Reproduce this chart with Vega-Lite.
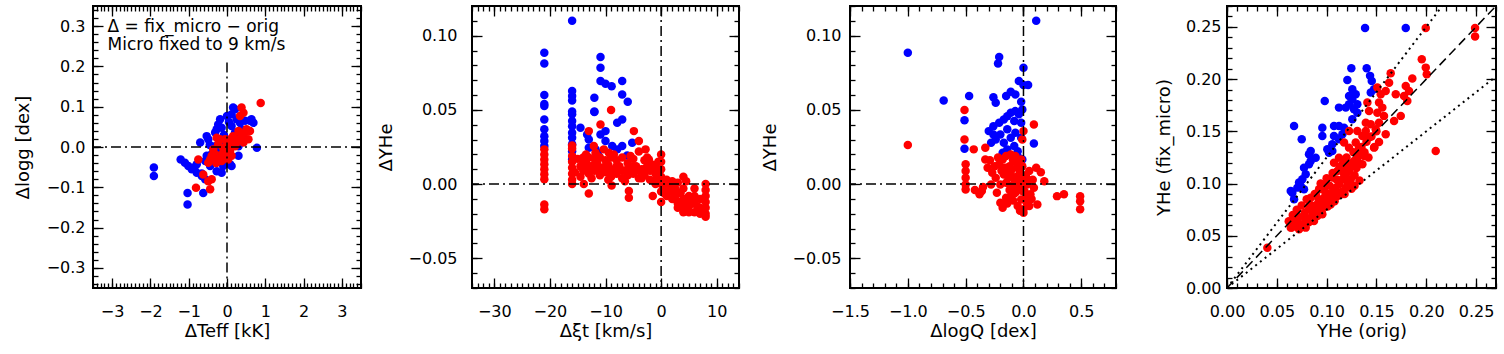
{
"$schema": "https://vega.github.io/schema/vega-lite/v6.json",
"background": "white",
"padding": {"left": 13, "top": 4, "right": 0, "bottom": 0},
"config": {
 "font": "DejaVu Sans",
 "view": {"stroke": "black", "strokeWidth": 2},
 "axis": {"domain": false, "grid": false, "tickColor": "black", "tickWidth": 1.3, "labelFont": "DejaVu Sans", "labelFontSize": 16, "labelColor": "black", "labelFlush": false, "labelOverlap": false, "labelBound": false, "titleFont": "DejaVu Sans", "titleFontSize": 18, "titleFontWeight": "normal", "titleColor": "black"}
},
"datasets": {
 "p1": [
  {"x":-1.91,"y":-0.051,"c":"b"},{"x":-1.91,"y":-0.072,"c":"b"},{"x":-1.03,"y":-0.114,"c":"b"},{"x":-1.03,"y":-0.143,"c":"b"},{"x":-0.62,"y":-0.114,"c":"b"},{"x":-1.21,"y":-0.031,"c":"b"},{"x":-1.10,"y":-0.039,"c":"b"},{"x":-1.01,"y":-0.047,"c":"b"},{"x":-0.92,"y":-0.055,"c":"b"},{"x":-0.79,"y":-0.064,"c":"b"},{"x":-0.66,"y":-0.066,"c":"b"},{"x":-0.79,"y":-0.043,"c":"b"},{"x":-0.70,"y":0.011,"c":"b"},{"x":-0.53,"y":0.027,"c":"b"},{"x":-0.49,"y":0.019,"c":"b"},{"x":-0.57,"y":-0.035,"c":"b"},{"x":-0.44,"y":-0.047,"c":"b"},{"x":-0.27,"y":-0.06,"c":"b"},{"x":-0.14,"y":-0.064,"c":"b"},{"x":-0.31,"y":0.036,"c":"b"},{"x":-0.23,"y":0.056,"c":"b"},{"x":-0.18,"y":0.069,"c":"b"},{"x":-0.27,"y":0.044,"c":"b"},{"x":-0.14,"y":0.048,"c":"b"},{"x":0,"y":0.077,"c":"b"},{"x":0.12,"y":0.081,"c":"b"},{"x":0.21,"y":0.094,"c":"b"},{"x":0.16,"y":0.098,"c":"b"},{"x":0.25,"y":0.069,"c":"b"},{"x":0.34,"y":0.06,"c":"b"},{"x":0.47,"y":0.065,"c":"b"},{"x":0.6,"y":0.065,"c":"b"},{"x":0.64,"y":0.069,"c":"b"},{"x":0.69,"y":0.06,"c":"b"},{"x":0.38,"y":0.044,"c":"b"},{"x":0.43,"y":0.019,"c":"b"},{"x":0.3,"y":0.002,"c":"b"},{"x":0.78,"y":-0.002,"c":"b"},{"x":0.3,"y":-0.022,"c":"b"},{"x":0.08,"y":-0.043,"c":"b"},{"x":0.12,"y":-0.047,"c":"b"},{"x":-0.23,"y":-0.01,"c":"b"},{"x":-0.53,"y":-0.022,"c":"b"},{"x":-0.4,"y":-0.018,"c":"b"},{"x":-0.66,"y":-0.072,"c":"b"},{"x":-0.57,"y":-0.08,"c":"b"},{"x":-0.05,"y":-0.035,"c":"b"},{"x":-0.1,"y":-0.047,"c":"b"},{"x":0.21,"y":0.036,"c":"b"},{"x":0.21,"y":0.019,"c":"b"},{"x":0.12,"y":0.052,"c":"b"},{"x":-0.14,"y":0.011,"c":"b"},{"x":-0.31,"y":0.002,"c":"b"},{"x":0.05,"y":0.062,"c":"b"},{"x":-0.08,"y":0.03,"c":"b"},{"x":-0.45,"y":0.005,"c":"b"},{"x":-0.85,"y":-0.05,"c":"b"},
  {"x":0.88,"y":0.109,"c":"r"},{"x":0.38,"y":0.098,"c":"r"},{"x":0.43,"y":0.085,"c":"r"},{"x":-0.81,"y":-0.101,"c":"r"},{"x":-0.44,"y":-0.105,"c":"r"},{"x":-0.49,"y":-0.085,"c":"r"},{"x":-0.4,"y":-0.08,"c":"r"},{"x":-0.75,"y":-0.031,"c":"r"},{"x":-0.62,"y":-0.068,"c":"r"},{"x":-0.40,"y":-0.022,"c":"r"},{"x":-0.31,"y":-0.018,"c":"r"},{"x":-0.18,"y":-0.022,"c":"r"},{"x":-0.23,"y":-0.031,"c":"r"},{"x":-0.10,"y":-0.014,"c":"r"},{"x":-0.01,"y":-0.018,"c":"r"},{"x":0.08,"y":-0.01,"c":"r"},{"x":0.12,"y":0.002,"c":"r"},{"x":0.03,"y":0.011,"c":"r"},{"x":0.21,"y":0.002,"c":"r"},{"x":0.25,"y":0.011,"c":"r"},{"x":0.3,"y":0.019,"c":"r"},{"x":0.38,"y":0.027,"c":"r"},{"x":0.47,"y":0.036,"c":"r"},{"x":0.51,"y":0.044,"c":"r"},{"x":0.56,"y":0.019,"c":"r"},{"x":0.43,"y":0.011,"c":"r"},{"x":-0.27,"y":0.023,"c":"r"},{"x":-0.18,"y":0.019,"c":"r"},{"x":-0.31,"y":-0.031,"c":"r"},{"x":-0.14,"y":-0.035,"c":"r"},{"x":0.03,"y":-0.031,"c":"r"},{"x":0.12,"y":-0.022,"c":"r"},{"x":-0.01,"y":-0.002,"c":"r"},{"x":-0.1,"y":-0.002,"c":"r"},{"x":0.3,"y":0.04,"c":"r"},{"x":0.16,"y":0.027,"c":"r"},{"x":-0.23,"y":0.007,"c":"r"},{"x":-0.36,"y":-0.006,"c":"r"},{"x":-0.44,"y":-0.031,"c":"r"},{"x":-0.49,"y":-0.039,"c":"r"},{"x":-0.05,"y":0.019,"c":"r"},{"x":0.08,"y":0.019,"c":"r"},{"x":0.34,"y":0.077,"c":"r"},{"x":0.6,"y":0.04,"c":"r"},{"x":-0.28,"y":-0.04,"c":"r"},{"x":0.0,"y":0.01,"c":"r"},{"x":0.18,"y":0.012,"c":"r"}
 ],
 "p2": [
  {"x":-16,"y":0.110,"c":"b"},{"x":-21,"y":0.0885,"c":"b"},{"x":-21,"y":0.0813,"c":"b"},{"x":-10.9,"y":0.0856,"c":"b"},{"x":-10.9,"y":0.0784,"c":"b"},{"x":-10.9,"y":0.0694,"c":"b"},{"x":-10,"y":0.0676,"c":"b"},{"x":-8.9,"y":0.066,"c":"b"},{"x":-7,"y":0.0694,"c":"b"},{"x":-7,"y":0.0604,"c":"b"},{"x":-6,"y":0.0555,"c":"b"},{"x":-21,"y":0.06,"c":"b"},{"x":-21,"y":0.054,"c":"b"},{"x":-16,"y":0.0627,"c":"b"},{"x":-16,"y":0.0593,"c":"b"},{"x":-16,"y":0.0564,"c":"b"},{"x":-12,"y":0.0582,"c":"b"},{"x":-12,"y":0.049,"c":"b"},{"x":-16,"y":0.049,"c":"b"},{"x":-21,"y":0.0526,"c":"b"},{"x":-21,"y":0.0436,"c":"b"},{"x":-21,"y":0.0369,"c":"b"},{"x":-21,"y":0.0323,"c":"b"},{"x":-21,"y":0.029,"c":"b"},{"x":-21,"y":0.0256,"c":"b"},{"x":-16,"y":0.047,"c":"b"},{"x":-16,"y":0.0425,"c":"b"},{"x":-16,"y":0.039,"c":"b"},{"x":-16,"y":0.0346,"c":"b"},{"x":-16,"y":0.0312,"c":"b"},{"x":-16,"y":0.0268,"c":"b"},{"x":-16,"y":0.0222,"c":"b"},{"x":-16,"y":0.0166,"c":"b"},{"x":-12,"y":0.0485,"c":"b"},{"x":-7.9,"y":0.0413,"c":"b"},{"x":-7,"y":0.0436,"c":"b"},{"x":-10,"y":0.0357,"c":"b"},{"x":-10.9,"y":0.0335,"c":"b"},{"x":-13.3,"y":0.0335,"c":"b"},{"x":-13,"y":0.0301,"c":"b"},{"x":-13,"y":0.0245,"c":"b"},{"x":-10,"y":0.029,"c":"b"},{"x":-8.8,"y":0.0256,"c":"b"},{"x":-7.9,"y":0.0234,"c":"b"},{"x":-7,"y":0.0256,"c":"b"},{"x":-11.2,"y":0.0189,"c":"b"},{"x":-5.2,"y":0.0278,"c":"b"},{"x":-6.1,"y":0.0193,"c":"b"},{"x":-11.8,"y":0.0234,"c":"b"},{"x":-11.5,"y":0.0211,"c":"b"},{"x":-14.5,"y":0.038,"c":"b"},
  {"x":-21,"y":0.0234,"c":"r"},{"x":-21,"y":0.02,"c":"r"},{"x":-21,"y":0.0166,"c":"r"},{"x":-21,"y":0.0133,"c":"r"},{"x":-21,"y":0.01,"c":"r"},{"x":-21,"y":0.0066,"c":"r"},{"x":-21,"y":0.0033,"c":"r"},{"x":-21,"y":-0.0137,"c":"r"},{"x":-21,"y":-0.017,"c":"r"},
  {"x":-16,"y":0.026,"c":"r"},{"x":-16,"y":0.024,"c":"r"},{"x":-16,"y":0.019,"c":"r"},{"x":-16,"y":0.015,"c":"r"},{"x":-16,"y":0.011,"c":"r"},{"x":-16,"y":0.007,"c":"r"},{"x":-16,"y":0.003,"c":"r"},{"x":-16,"y":0.0,"c":"r"},
  {"x":-9,"y":0.0499,"c":"r"},{"x":-10.9,"y":0.0402,"c":"r"},{"x":-13,"y":0.0357,"c":"r"},{"x":-4.9,"y":0.0357,"c":"r"},{"x":-4,"y":0.029,"c":"r"},{"x":-12.1,"y":0.0256,"c":"r"},{"x":-10.3,"y":0.0234,"c":"r"},{"x":-9.4,"y":0.0211,"c":"r"},{"x":-11.8,"y":0.0211,"c":"r"},{"x":-2.8,"y":0.0234,"c":"r"},{"x":-2.2,"y":0.0166,"c":"r"},
  {"x":-15,"y":0.017,"c":"r"},{"x":-14.5,"y":0.012,"c":"r"},{"x":-14,"y":0.018,"c":"r"},{"x":-14,"y":0.009,"c":"r"},{"x":-13.5,"y":0.015,"c":"r"},{"x":-13,"y":0.018,"c":"r"},{"x":-13,"y":0.007,"c":"r"},{"x":-12.5,"y":0.012,"c":"r"},{"x":-12,"y":0.017,"c":"r"},{"x":-12,"y":0.009,"c":"r"},{"x":-11.5,"y":0.014,"c":"r"},{"x":-11,"y":0.018,"c":"r"},{"x":-11,"y":0.006,"c":"r"},{"x":-10.5,"y":0.011,"c":"r"},{"x":-10,"y":0.016,"c":"r"},{"x":-10,"y":0.008,"c":"r"},{"x":-9.5,"y":0.013,"c":"r"},{"x":-9,"y":0.018,"c":"r"},{"x":-9,"y":0.005,"c":"r"},{"x":-8.5,"y":0.01,"c":"r"},{"x":-8,"y":0.016,"c":"r"},{"x":-8,"y":0.007,"c":"r"},{"x":-7.5,"y":0.012,"c":"r"},{"x":-7,"y":0.018,"c":"r"},{"x":-7,"y":0.004,"c":"r"},{"x":-6.5,"y":0.009,"c":"r"},{"x":-6,"y":0.014,"c":"r"},{"x":-6,"y":0.006,"c":"r"},{"x":-5.5,"y":0.011,"c":"r"},{"x":-5,"y":0.017,"c":"r"},{"x":-5,"y":0.007,"c":"r"},{"x":-4.5,"y":0.012,"c":"r"},{"x":-4,"y":0.022,"c":"r"},{"x":-4,"y":0.004,"c":"r"},{"x":-3.5,"y":0.01,"c":"r"},{"x":-3,"y":0.016,"c":"r"},{"x":-3,"y":0.006,"c":"r"},{"x":-2.5,"y":0.012,"c":"r"},{"x":-2,"y":0.009,"c":"r"},{"x":-2,"y":0.003,"c":"r"},{"x":-1.5,"y":0.013,"c":"r"},{"x":-1,"y":0.007,"c":"r"},{"x":-1,"y":0.0,"c":"r"},{"x":-0.5,"y":0.004,"c":"r"},{"x":0,"y":0.02,"c":"r"},{"x":0,"y":0.015,"c":"r"},{"x":0,"y":0.01,"c":"r"},{"x":0,"y":0.005,"c":"r"},{"x":0,"y":0.0,"c":"r"},{"x":0,"y":-0.005,"c":"r"},{"x":0,"y":-0.012,"c":"r"},{"x":-1.5,"y":-0.008,"c":"r"},
  {"x":-15.5,"y":0.008,"c":"r"},{"x":-14,"y":0.014,"c":"r"},{"x":-13,"y":0.012,"c":"r"},{"x":-12,"y":0.013,"c":"r"},{"x":-11,"y":0.01,"c":"r"},{"x":-10,"y":0.012,"c":"r"},{"x":-9,"y":0.009,"c":"r"},{"x":-8,"y":0.012,"c":"r"},{"x":-7,"y":0.009,"c":"r"},{"x":-6,"y":0.01,"c":"r"},{"x":-5,"y":0.012,"c":"r"},{"x":-4,"y":0.009,"c":"r"},{"x":-3,"y":0.01,"c":"r"},{"x":-2,"y":0.013,"c":"r"},{"x":-1,"y":0.011,"c":"r"},{"x":-0.5,"y":0.015,"c":"r"},{"x":-1,"y":0.003,"c":"r"},{"x":-3.5,"y":0.004,"c":"r"},{"x":-6.5,"y":0.002,"c":"r"},{"x":-9.5,"y":0.003,"c":"r"},{"x":-12.5,"y":0.004,"c":"r"},{"x":-14.5,"y":0.005,"c":"r"},{"x":-2.5,"y":0.018,"c":"r"},{"x":-5.5,"y":0.019,"c":"r"},{"x":-8.5,"y":0.02,"c":"r"},{"x":-11.5,"y":0.019,"c":"r"},{"x":-13.5,"y":0.02,"c":"r"},
  {"x":-13.9,"y":0.0,"c":"r"},{"x":-13,"y":-0.0063,"c":"r"},{"x":-8.9,"y":-0.0009,"c":"r"},{"x":-5.8,"y":-0.0047,"c":"r"},{"x":-5.8,"y":-0.0092,"c":"r"},
  {"x":1,"y":0.003,"c":"r"},{"x":1,"y":-0.003,"c":"r"},{"x":1,"y":-0.008,"c":"r"},{"x":1.5,"y":0.0,"c":"r"},{"x":2,"y":0.002,"c":"r"},{"x":2,"y":-0.005,"c":"r"},{"x":2,"y":-0.01,"c":"r"},{"x":2.5,"y":-0.003,"c":"r"},{"x":3,"y":0.001,"c":"r"},{"x":3,"y":-0.006,"c":"r"},{"x":3,"y":-0.013,"c":"r"},{"x":4,"y":0.005,"c":"r"},{"x":4,"y":-0.003,"c":"r"},{"x":4,"y":-0.01,"c":"r"},{"x":4,"y":-0.015,"c":"r"},{"x":4,"y":-0.019,"c":"r"},{"x":5,"y":-0.008,"c":"r"},{"x":5,"y":-0.015,"c":"r"},{"x":6,"y":-0.008,"c":"r"},{"x":6,"y":-0.013,"c":"r"},{"x":6,"y":-0.019,"c":"r"},{"x":7,"y":-0.01,"c":"r"},{"x":7,"y":-0.016,"c":"r"},{"x":8,"y":0.0,"c":"r"},{"x":8,"y":-0.004,"c":"r"},{"x":8,"y":-0.008,"c":"r"},{"x":8,"y":-0.012,"c":"r"},{"x":8,"y":-0.016,"c":"r"},{"x":8,"y":-0.02,"c":"r"},{"x":8,"y":-0.022,"c":"r"},
  {"x":0.5,"y":0.002,"c":"r"},{"x":0.5,"y":-0.006,"c":"r"},{"x":1.5,"y":-0.005,"c":"r"},{"x":2.5,"y":-0.009,"c":"r"},{"x":3.5,"y":-0.006,"c":"r"},{"x":3.5,"y":-0.012,"c":"r"},{"x":4.5,"y":-0.012,"c":"r"},{"x":5.5,"y":-0.012,"c":"r"},{"x":6.5,"y":-0.015,"c":"r"},{"x":7.5,"y":-0.018,"c":"r"},{"x":5,"y":-0.019,"c":"r"},{"x":7,"y":-0.02,"c":"r"},{"x":3,"y":-0.016,"c":"r"},{"x":6,"y":-0.003,"c":"r"},{"x":4.5,"y":0.002,"c":"r"}
 ],
 "p3": [
  {"x":0.11,"y":0.110,"c":"b"},{"x":-1.0,"y":0.0885,"c":"b"},{"x":-0.21,"y":0.0856,"c":"b"},{"x":-0.22,"y":0.0813,"c":"b"},{"x":0,"y":0.0784,"c":"b"},{"x":-0.04,"y":0.0694,"c":"b"},{"x":0.04,"y":0.0667,"c":"b"},{"x":0,"y":0.0667,"c":"b"},{"x":-0.69,"y":0.0564,"c":"b"},{"x":-0.47,"y":0.0593,"c":"b"},{"x":-0.26,"y":0.0586,"c":"b"},{"x":-0.24,"y":0.0548,"c":"b"},{"x":-0.15,"y":0.0593,"c":"b"},{"x":-0.11,"y":0.0622,"c":"b"},{"x":-0.07,"y":0.0604,"c":"b"},{"x":-0.02,"y":0.0555,"c":"b"},
  {"x":-0.51,"y":0.0431,"c":"b"},{"x":-0.51,"y":0.0238,"c":"b"},{"x":-0.30,"y":0.0357,"c":"b"},{"x":-0.26,"y":0.039,"c":"b"},{"x":-0.21,"y":0.0413,"c":"b"},{"x":-0.17,"y":0.0436,"c":"b"},{"x":-0.14,"y":0.0458,"c":"b"},{"x":-0.11,"y":0.048,"c":"b"},{"x":-0.07,"y":0.0492,"c":"b"},{"x":-0.04,"y":0.047,"c":"b"},{"x":-0.08,"y":0.0425,"c":"b"},{"x":-0.14,"y":0.0369,"c":"b"},{"x":-0.20,"y":0.0335,"c":"b"},{"x":-0.24,"y":0.0301,"c":"b"},{"x":-0.17,"y":0.0278,"c":"b"},{"x":-0.11,"y":0.0312,"c":"b"},{"x":-0.07,"y":0.0346,"c":"b"},{"x":-0.02,"y":0.0413,"c":"b"},{"x":-0.02,"y":0.0312,"c":"b"},{"x":-0.08,"y":0.0256,"c":"b"},{"x":-0.14,"y":0.0234,"c":"b"},{"x":-0.18,"y":0.0211,"c":"b"},{"x":-0.05,"y":0.0222,"c":"b"},{"x":-0.04,"y":0.0177,"c":"b"},{"x":-0.01,"y":0.0166,"c":"b"},{"x":-0.26,"y":0.0335,"c":"b"},{"x":-0.28,"y":0.0278,"c":"b"},{"x":0.09,"y":0.0274,"c":"b"},{"x":-0.01,"y":0.0503,"c":"b"},
  {"x":-1.0,"y":0.0263,"c":"r"},{"x":-0.51,"y":0.0499,"c":"r"},{"x":-0.51,"y":0.0301,"c":"r"},{"x":-0.5,"y":0.0133,"c":"r"},{"x":-0.5,"y":0.0088,"c":"r"},{"x":-0.5,"y":0.0043,"c":"r"},{"x":-0.5,"y":-0.0002,"c":"r"},{"x":-0.5,"y":-0.0036,"c":"r"},{"x":-0.43,"y":0.0234,"c":"r"},{"x":-0.33,"y":0.0245,"c":"r"},{"x":0.09,"y":0.0402,"c":"r"},{"x":0,"y":0.0357,"c":"r"},{"x":-0.01,"y":0.0301,"c":"r"},{"x":-0.33,"y":0.0166,"c":"r"},{"x":-0.31,"y":0.011,"c":"r"},{"x":-0.27,"y":0.0076,"c":"r"},{"x":-0.24,"y":0.0042,"c":"r"},
  {"x":-0.21,"y":0.0133,"c":"r"},{"x":-0.18,"y":0.0166,"c":"r"},{"x":-0.15,"y":0.0189,"c":"r"},{"x":-0.11,"y":0.02,"c":"r"},{"x":-0.07,"y":0.0189,"c":"r"},{"x":-0.02,"y":0.0166,"c":"r"},{"x":-0.01,"y":0.0121,"c":"r"},{"x":-0.05,"y":0.011,"c":"r"},{"x":-0.10,"y":0.0099,"c":"r"},{"x":-0.14,"y":0.0088,"c":"r"},{"x":-0.17,"y":0.0065,"c":"r"},{"x":-0.13,"y":0.0042,"c":"r"},{"x":-0.08,"y":0.0032,"c":"r"},{"x":-0.04,"y":0.0009,"c":"r"},{"x":0.0,"y":0.002,"c":"r"},{"x":0.03,"y":-0.0002,"c":"r"},{"x":0.05,"y":0.0088,"c":"r"},{"x":0.11,"y":0.011,"c":"r"},{"x":0.18,"y":0.002,"c":"r"},{"x":0.09,"y":-0.0025,"c":"r"},{"x":0.06,"y":-0.0069,"c":"r"},{"x":0.02,"y":-0.0092,"c":"r"},{"x":-0.02,"y":-0.0103,"c":"r"},{"x":-0.05,"y":-0.0148,"c":"r"},{"x":0.0,"y":-0.017,"c":"r"},{"x":0.05,"y":-0.0148,"c":"r"},{"x":0.12,"y":-0.0137,"c":"r"},{"x":-0.07,"y":-0.0059,"c":"r"},{"x":-0.11,"y":-0.0081,"c":"r"},{"x":-0.15,"y":-0.0092,"c":"r"},{"x":-0.20,"y":-0.0126,"c":"r"},{"x":-0.18,"y":-0.016,"c":"r"},{"x":-0.23,"y":-0.0059,"c":"r"},{"x":-0.28,"y":-0.0002,"c":"r"},{"x":-0.36,"y":-0.0047,"c":"r"},{"x":-0.38,"y":-0.0069,"c":"r"},{"x":0.29,"y":-0.0081,"c":"r"},{"x":0.35,"y":-0.0069,"c":"r"},{"x":0.49,"y":-0.0081,"c":"r"},{"x":0.49,"y":-0.0115,"c":"r"},{"x":0.49,"y":-0.017,"c":"r"},{"x":-0.11,"y":-0.0013,"c":"r"},{"x":-0.15,"y":0.0009,"c":"r"},{"x":-0.2,"y":-0.0002,"c":"r"},{"x":0,"y":-0.0193,"c":"r"},{"x":-0.01,"y":-0.0047,"c":"r"},
  {"x":-0.06,"y":0.014,"c":"r"},{"x":-0.03,"y":0.008,"c":"r"},{"x":-0.09,"y":0.016,"c":"r"},{"x":-0.12,"y":0.012,"c":"r"},{"x":-0.16,"y":0.011,"c":"r"},{"x":-0.19,"y":0.009,"c":"r"},{"x":-0.06,"y":0.005,"c":"r"},{"x":-0.02,"y":0.004,"c":"r"},{"x":-0.1,"y":0.005,"c":"r"},{"x":0.02,"y":0.006,"c":"r"},{"x":0.04,"y":0.003,"c":"r"},{"x":-0.03,"y":-0.003,"c":"r"},{"x":0.01,"y":-0.005,"c":"r"},{"x":-0.05,"y":0.0,"c":"r"},{"x":-0.08,"y":-0.002,"c":"r"},{"x":-0.12,"y":-0.004,"c":"r"},{"x":0.07,"y":-0.01,"c":"r"},{"x":0.03,"y":-0.013,"c":"r"},{"x":-0.03,"y":-0.018,"c":"r"},{"x":-0.09,"y":-0.011,"c":"r"},{"x":-0.14,"y":-0.013,"c":"r"},{"x":0.15,"y":0.008,"c":"r"},{"x":0.08,"y":0.003,"c":"r"},{"x":-0.25,"y":0.012,"c":"r"},{"x":-0.29,"y":0.016,"c":"r"},{"x":-0.22,"y":0.018,"c":"r"},{"x":-0.35,"y":-0.002,"c":"r"},{"x":-0.42,"y":-0.004,"c":"r"}
 ],
 "p4": [
  {"x":0.1386,"y":0.249,"c":"b"},{"x":0.1794,"y":0.249,"c":"b"},{"x":0.1248,"y":0.2104,"c":"b"},{"x":0.1402,"y":0.2104,"c":"b"},{"x":0.1208,"y":0.1992,"c":"b"},{"x":0.1436,"y":0.2031,"c":"b"},{"x":0.1453,"y":0.1983,"c":"b"},{"x":0.1476,"y":0.1903,"c":"b"},{"x":0.1443,"y":0.1871,"c":"b"},{"x":0.1258,"y":0.1903,"c":"b"},{"x":0.1292,"y":0.1855,"c":"b"},{"x":0.1225,"y":0.1839,"c":"b"},{"x":0.1258,"y":0.1807,"c":"b"},{"x":0.1308,"y":0.176,"c":"b"},{"x":0.1275,"y":0.1712,"c":"b"},{"x":0.1308,"y":0.1679,"c":"b"},{"x":0.1258,"y":0.1616,"c":"b"},{"x":0.1225,"y":0.176,"c":"b"},{"x":0.1192,"y":0.1727,"c":"b"},{"x":0.1124,"y":0.1727,"c":"b"},{"x":0.0981,"y":0.1791,"c":"b"},{"x":0.0673,"y":0.1552,"c":"b"},{"x":0.075,"y":0.1424,"c":"b"},{"x":0.0957,"y":0.1535,"c":"b"},{"x":0.0957,"y":0.1456,"c":"b"},{"x":0.1074,"y":0.1552,"c":"b"},{"x":0.1124,"y":0.1552,"c":"b"},{"x":0.1175,"y":0.1535,"c":"b"},{"x":0.1074,"y":0.1456,"c":"b"},{"x":0.1057,"y":0.1376,"c":"b"},{"x":0.1124,"y":0.1424,"c":"b"},{"x":0.1158,"y":0.1472,"c":"b"},{"x":0.084,"y":0.1312,"c":"b"},{"x":0.1007,"y":0.1329,"c":"b"},{"x":0.0823,"y":0.128,"c":"b"},{"x":0.089,"y":0.1248,"c":"b"},{"x":0.0823,"y":0.1185,"c":"b"},{"x":0.0773,"y":0.1152,"c":"b"},{"x":0.084,"y":0.1216,"c":"b"},{"x":0.079,"y":0.1089,"c":"b"},{"x":0.0756,"y":0.1041,"c":"b"},{"x":0.074,"y":0.0977,"c":"b"},{"x":0.0706,"y":0.0961,"c":"b"},{"x":0.064,"y":0.0929,"c":"b"},{"x":0.0673,"y":0.085,"c":"b"},{"x":0.0656,"y":0.0913,"c":"b"},{"x":0.0773,"y":0.0945,"c":"b"},{"x":0.0723,"y":0.1009,"c":"b"},{"x":0.1024,"y":0.1296,"c":"b"},{"x":0.1057,"y":0.1312,"c":"b"},
  {"x":0.1995,"y":0.249,"c":"r"},{"x":0.249,"y":0.249,"c":"r"},{"x":0.249,"y":0.2407,"c":"r"},{"x":0.1955,"y":0.2191,"c":"r"},{"x":0.1995,"y":0.211,"c":"r"},{"x":0.2005,"y":0.2047,"c":"r"},{"x":0.1643,"y":0.2056,"c":"r"},{"x":0.186,"y":0.2005,"c":"r"},{"x":0.1794,"y":0.1935,"c":"r"},{"x":0.1827,"y":0.1887,"c":"r"},{"x":0.1777,"y":0.1839,"c":"r"},{"x":0.181,"y":0.1791,"c":"r"},{"x":0.1744,"y":0.1648,"c":"r"},{"x":0.1677,"y":0.16,"c":"r"},{"x":0.1593,"y":0.1887,"c":"r"},{"x":0.1543,"y":0.1855,"c":"r"},{"x":0.1526,"y":0.1775,"c":"r"},{"x":0.1627,"y":0.1966,"c":"r"},{"x":0.1694,"y":0.1855,"c":"r"},{"x":0.1559,"y":0.1727,"c":"r"},{"x":0.1509,"y":0.1679,"c":"r"},{"x":0.1426,"y":0.1695,"c":"r"},{"x":0.1576,"y":0.1648,"c":"r"},{"x":0.1526,"y":0.1583,"c":"r"},{"x":0.1443,"y":0.1568,"c":"r"},{"x":0.1493,"y":0.152,"c":"r"},{"x":0.1393,"y":0.1504,"c":"r"},{"x":0.1426,"y":0.144,"c":"r"},{"x":0.1359,"y":0.1456,"c":"r"},{"x":0.1308,"y":0.1504,"c":"r"},{"x":0.1292,"y":0.1392,"c":"r"},{"x":0.1325,"y":0.1344,"c":"r"},{"x":0.1526,"y":0.1398,"c":"r"},{"x":0.2095,"y":0.1312,"c":"r"},{"x":0.1225,"y":0.1504,"c":"r"},{"x":0.1175,"y":0.1392,"c":"r"},{"x":0.1225,"y":0.1344,"c":"r"},{"x":0.1393,"y":0.1583,"c":"r"},{"x":0.1593,"y":0.1472,"c":"r"},{"x":0.1476,"y":0.1344,"c":"r"},{"x":0.1409,"y":0.1775,"c":"r"},{"x":0.1509,"y":0.1919,"c":"r"},
  {"x":0.0405,"y":0.0386,"c":"r"},{"x":0.064,"y":0.0578,"c":"r"},{"x":0.0656,"y":0.0625,"c":"r"},{"x":0.0706,"y":0.0658,"c":"r"},{"x":0.069,"y":0.0594,"c":"r"},{"x":0.074,"y":0.061,"c":"r"},{"x":0.0773,"y":0.069,"c":"r"},{"x":0.079,"y":0.0642,"c":"r"},{"x":0.084,"y":0.0673,"c":"r"},{"x":0.0873,"y":0.0721,"c":"r"},{"x":0.0823,"y":0.0754,"c":"r"},{"x":0.0857,"y":0.0785,"c":"r"},{"x":0.0907,"y":0.0802,"c":"r"},{"x":0.0941,"y":0.0833,"c":"r"},{"x":0.0974,"y":0.0865,"c":"r"},{"x":0.0924,"y":0.0738,"c":"r"},{"x":0.0957,"y":0.0769,"c":"r"},{"x":0.1007,"y":0.0802,"c":"r"},{"x":0.1024,"y":0.0865,"c":"r"},{"x":0.0991,"y":0.0913,"c":"r"},{"x":0.1057,"y":0.0913,"c":"r"},{"x":0.1091,"y":0.0961,"c":"r"},{"x":0.1124,"y":0.0993,"c":"r"},{"x":0.1158,"y":0.1041,"c":"r"},{"x":0.1192,"y":0.1073,"c":"r"},{"x":0.1225,"y":0.1121,"c":"r"},{"x":0.1258,"y":0.1169,"c":"r"},{"x":0.1275,"y":0.1216,"c":"r"},{"x":0.1308,"y":0.1248,"c":"r"},{"x":0.1342,"y":0.1281,"c":"r"},{"x":0.1192,"y":0.0961,"c":"r"},{"x":0.1225,"y":0.1009,"c":"r"},{"x":0.1124,"y":0.0898,"c":"r"},{"x":0.1074,"y":0.085,"c":"r"},{"x":0.1024,"y":0.0817,"c":"r"},{"x":0.0957,"y":0.0706,"c":"r"},{"x":0.0907,"y":0.069,"c":"r"},{"x":0.0873,"y":0.0642,"c":"r"},{"x":0.079,"y":0.0578,"c":"r"},{"x":0.0723,"y":0.0562,"c":"r"},{"x":0.1208,"y":0.1152,"c":"r"},{"x":0.1359,"y":0.1185,"c":"r"},{"x":0.1242,"y":0.1041,"c":"r"},{"x":0.0924,"y":0.0945,"c":"r"},{"x":0.0891,"y":0.0898,"c":"r"},{"x":0.084,"y":0.0865,"c":"r"},{"x":0.0991,"y":0.0993,"c":"r"},{"x":0.1057,"y":0.1057,"c":"r"},{"x":0.1108,"y":0.1121,"c":"r"},{"x":0.1141,"y":0.1169,"c":"r"},{"x":0.1175,"y":0.1216,"c":"r"},{"x":0.1124,"y":0.1248,"c":"r"},{"x":0.1074,"y":0.12,"c":"r"},{"x":0.1376,"y":0.1264,"c":"r"},
  {"x":0.062,"y":0.064,"c":"r"},{"x":0.066,"y":0.07,"c":"r"},{"x":0.07,"y":0.075,"c":"r"},{"x":0.072,"y":0.068,"c":"r"},{"x":0.075,"y":0.079,"c":"r"},{"x":0.078,"y":0.072,"c":"r"},{"x":0.08,"y":0.085,"c":"r"},{"x":0.082,"y":0.063,"c":"r"},{"x":0.083,"y":0.08,"c":"r"},{"x":0.086,"y":0.07,"c":"r"},{"x":0.088,"y":0.09,"c":"r"},{"x":0.09,"y":0.07,"c":"r"},{"x":0.092,"y":0.085,"c":"r"},{"x":0.094,"y":0.1,"c":"r"},{"x":0.095,"y":0.073,"c":"r"},{"x":0.097,"y":0.094,"c":"r"},{"x":0.098,"y":0.078,"c":"r"},{"x":0.1,"y":0.105,"c":"r"},{"x":0.101,"y":0.078,"c":"r"},{"x":0.103,"y":0.098,"c":"r"},{"x":0.104,"y":0.08,"c":"r"},{"x":0.106,"y":0.11,"c":"r"},{"x":0.108,"y":0.083,"c":"r"},{"x":0.11,"y":0.104,"c":"r"},{"x":0.111,"y":0.088,"c":"r"},{"x":0.113,"y":0.115,"c":"r"},{"x":0.115,"y":0.092,"c":"r"},{"x":0.117,"y":0.11,"c":"r"},{"x":0.118,"y":0.09,"c":"r"},{"x":0.12,"y":0.125,"c":"r"},{"x":0.121,"y":0.1,"c":"r"},{"x":0.123,"y":0.118,"c":"r"},{"x":0.125,"y":0.095,"c":"r"},{"x":0.127,"y":0.13,"c":"r"},{"x":0.128,"y":0.108,"c":"r"},{"x":0.13,"y":0.115,"c":"r"},{"x":0.132,"y":0.12,"c":"r"},{"x":0.135,"y":0.135,"c":"r"},{"x":0.138,"y":0.13,"c":"r"},{"x":0.14,"y":0.14,"c":"r"},{"x":0.142,"y":0.125,"c":"r"},{"x":0.145,"y":0.145,"c":"r"},{"x":0.148,"y":0.135,"c":"r"},{"x":0.15,"y":0.15,"c":"r"},{"x":0.128,"y":0.098,"c":"r"},{"x":0.133,"y":0.103,"c":"r"},{"x":0.126,"y":0.097,"c":"r"},{"x":0.116,"y":0.09,"c":"r"},{"x":0.107,"y":0.083,"c":"r"},{"x":0.09,"y":0.075,"c":"r"},{"x":0.069,"y":0.065,"c":"r"},{"x":0.065,"y":0.058,"c":"r"},{"x":0.074,"y":0.058,"c":"r"},{"x":0.085,"y":0.066,"c":"r"}
 ],
 "lines4": [
  {"x":0,"y":0,"x2":0.27,"y2":0.27,"k":"eq"},
  {"x":0,"y":0,"x2":0.216,"y2":0.27,"k":"hi"},
  {"x":0,"y":0,"x2":0.27,"y2":0.2025,"k":"lo"}
 ]
},
"spacing": 111,
"bounds": "flush",
"hconcat": [
 {
  "width": 268, "height": 282,
  "resolve": {"axis": {"x": "independent", "y": "independent"}},
  "layer": [
   {"data": {"name": "p1"}, "mark": {"type": "circle", "size": 72, "opacity": 1},
    "encoding": {
     "x": {"field": "x", "type": "quantitative", "scale": {"domain": [-3.5, 3.5], "nice": false, "zero": false},
       "axis": {"orient": "bottom", "values": [-3,-2,-1,0,1,2,3], "format": "d", "title": "ΔTeff [kK]", "tickSize": -10, "labelPadding": 25, "titlePadding": 3}},
     "y": {"field": "y", "type": "quantitative", "scale": {"domain": [-0.35, 0.35], "nice": false, "zero": false},
       "axis": {"orient": "left", "values": [-0.3,-0.2,-0.1,0,0.1,0.2,0.3], "format": ".1f", "title": "Δlogg [dex]", "tickSize": -10, "labelPadding": 18, "titlePadding": 14}},
     "color": {"field": "c", "type": "nominal", "scale": {"domain": ["b","r"], "range": ["#0000ff","#ff0000"]}, "legend": null}
    }},
   {"data": {"values": [{}]}, "mark": {"type": "point", "opacity": 0},
    "encoding": {
     "x": {"datum": 0, "type": "quantitative", "axis": {"orient": "bottom", "values": [-3.5,-3.4,-3.3,-3.2,-3.1,-3,-2.9,-2.8,-2.7,-2.6,-2.5,-2.4,-2.3,-2.2,-2.1,-2,-1.9,-1.8,-1.7,-1.6,-1.5,-1.4,-1.3,-1.2,-1.1,-1,-0.9,-0.8,-0.7,-0.6,-0.5,-0.4,-0.3,-0.2,-0.1,0,0.1,0.2,0.3,0.4,0.5,0.6,0.7,0.8,0.9,1,1.1,1.2,1.3,1.4,1.5,1.6,1.7,1.8,1.9,2,2.1,2.2,2.3,2.4,2.5,2.6,2.7,2.8,2.9,3,3.1,3.2,3.3,3.4,3.5], "labels": false, "title": null, "tickSize": -5}},
     "y": {"datum": 0, "type": "quantitative", "axis": {"orient": "left", "values": [-0.34,-0.32,-0.3,-0.28,-0.26,-0.24,-0.22,-0.2,-0.18,-0.16,-0.14,-0.12,-0.1,-0.08,-0.06,-0.04,-0.02,0,0.02,0.04,0.06,0.08,0.1,0.12,0.14,0.16,0.18,0.2,0.22,0.24,0.26,0.28,0.3,0.32,0.34], "labels": false, "title": null, "tickSize": -5}}
    }},
   {"data": {"values": [{}]}, "mark": {"type": "point", "opacity": 0},
    "encoding": {
     "x": {"datum": 0, "type": "quantitative", "axis": {"orient": "top", "values": [-3,-2,-1,0,1,2,3], "labels": false, "title": null, "tickSize": -10}},
     "y": {"datum": 0, "type": "quantitative", "axis": {"orient": "right", "values": [-0.3,-0.2,-0.1,0,0.1,0.2,0.3], "labels": false, "title": null, "tickSize": -10}}
    }},
   {"data": {"values": [{}]}, "mark": {"type": "point", "opacity": 0},
    "encoding": {
     "x": {"datum": 0, "type": "quantitative", "axis": {"orient": "top", "values": [-3.5,-3.4,-3.3,-3.2,-3.1,-3,-2.9,-2.8,-2.7,-2.6,-2.5,-2.4,-2.3,-2.2,-2.1,-2,-1.9,-1.8,-1.7,-1.6,-1.5,-1.4,-1.3,-1.2,-1.1,-1,-0.9,-0.8,-0.7,-0.6,-0.5,-0.4,-0.3,-0.2,-0.1,0,0.1,0.2,0.3,0.4,0.5,0.6,0.7,0.8,0.9,1,1.1,1.2,1.3,1.4,1.5,1.6,1.7,1.8,1.9,2,2.1,2.2,2.3,2.4,2.5,2.6,2.7,2.8,2.9,3,3.1,3.2,3.3,3.4,3.5], "labels": false, "title": null, "tickSize": -5}},
     "y": {"datum": 0, "type": "quantitative", "axis": {"orient": "right", "values": [-0.34,-0.32,-0.3,-0.28,-0.26,-0.24,-0.22,-0.2,-0.18,-0.16,-0.14,-0.12,-0.1,-0.08,-0.06,-0.04,-0.02,0,0.02,0.04,0.06,0.08,0.1,0.12,0.14,0.16,0.18,0.2,0.22,0.24,0.26,0.28,0.3,0.32,0.34], "labels": false, "title": null, "tickSize": -5}}
    }},
   {"data": {"values": [{}]}, "mark": {"type": "rule", "color": "black", "strokeWidth": 1.5, "strokeDash": [10,4,2,4]},
    "encoding": {"y": {"datum": 0, "type": "quantitative", "axis": null}}},
   {"data": {"values": [{}]}, "mark": {"type": "rule", "color": "black", "strokeWidth": 1.5, "strokeDash": [10,4,2,4]},
    "encoding": {"x": {"datum": 0, "type": "quantitative", "axis": null}, "y": {"datum": 0.21, "type": "quantitative", "axis": null}, "y2": {"datum": -0.35}}},
   {"data": {"values": [{}]}, "mark": {"type": "text", "text": "Δ = fix_micro − orig", "align": "left", "baseline": "middle", "fontSize": 17, "font": "DejaVu Sans", "color": "black"},
    "encoding": {"x": {"datum": -3.12, "type": "quantitative", "axis": null}, "y": {"datum": 0.298, "type": "quantitative", "axis": null}}},
   {"data": {"values": [{}]}, "mark": {"type": "text", "text": "Micro fixed to 9 km/s", "align": "left", "baseline": "middle", "fontSize": 17, "font": "DejaVu Sans", "color": "black"},
    "encoding": {"x": {"datum": -3.12, "type": "quantitative", "axis": null}, "y": {"datum": 0.252, "type": "quantitative", "axis": null}}}
  ]
 },
 {
  "width": 267, "height": 282,
  "resolve": {"axis": {"x": "independent", "y": "independent"}},
  "layer": [
   {"data": {"name": "p2"}, "mark": {"type": "circle", "size": 72, "opacity": 1},
    "encoding": {
     "x": {"field": "x", "type": "quantitative", "scale": {"domain": [-34, 14], "nice": false, "zero": false},
       "axis": {"orient": "bottom", "values": [-30,-20,-10,0,10], "format": "d", "title": "Δξt [km/s]", "tickSize": -10, "labelPadding": 25, "titlePadding": 3}},
     "y": {"field": "y", "type": "quantitative", "scale": {"domain": [-0.07, 0.12], "nice": false, "zero": false},
       "axis": {"orient": "left", "values": [-0.05,0,0.05,0.1], "format": ".2f", "title": "ΔYHe", "tickSize": -10, "labelPadding": 25, "titlePadding": 12}},
     "color": {"field": "c", "type": "nominal", "scale": {"domain": ["b","r"], "range": ["#0000ff","#ff0000"]}, "legend": null}
    }},
   {"data": {"values": [{}]}, "mark": {"type": "point", "opacity": 0},
    "encoding": {
     "x": {"datum": 0, "type": "quantitative", "axis": {"orient": "bottom", "values": [-34,-33,-32,-31,-30,-29,-28,-27,-26,-25,-24,-23,-22,-21,-20,-19,-18,-17,-16,-15,-14,-13,-12,-11,-10,-9,-8,-7,-6,-5,-4,-3,-2,-1,0,1,2,3,4,5,6,7,8,9,10,11,12,13,14], "labels": false, "title": null, "tickSize": -5}},
     "y": {"datum": 0, "type": "quantitative", "axis": {"orient": "left", "values": [-0.07,-0.06,-0.05,-0.04,-0.03,-0.02,-0.01,0,0.01,0.02,0.03,0.04,0.05,0.06,0.07,0.08,0.09,0.1,0.11,0.12], "labels": false, "title": null, "tickSize": -5}}
    }},
   {"data": {"values": [{}]}, "mark": {"type": "point", "opacity": 0},
    "encoding": {
     "x": {"datum": 0, "type": "quantitative", "axis": {"orient": "top", "values": [-30,-20,-10,0,10], "labels": false, "title": null, "tickSize": -10}},
     "y": {"datum": 0, "type": "quantitative", "axis": {"orient": "right", "values": [-0.05,0,0.05,0.1], "labels": false, "title": null, "tickSize": -10}}
    }},
   {"data": {"values": [{}]}, "mark": {"type": "point", "opacity": 0},
    "encoding": {
     "x": {"datum": 0, "type": "quantitative", "axis": {"orient": "top", "values": [-34,-33,-32,-31,-30,-29,-28,-27,-26,-25,-24,-23,-22,-21,-20,-19,-18,-17,-16,-15,-14,-13,-12,-11,-10,-9,-8,-7,-6,-5,-4,-3,-2,-1,0,1,2,3,4,5,6,7,8,9,10,11,12,13,14], "labels": false, "title": null, "tickSize": -5}},
     "y": {"datum": 0, "type": "quantitative", "axis": {"orient": "right", "values": [-0.07,-0.06,-0.05,-0.04,-0.03,-0.02,-0.01,0,0.01,0.02,0.03,0.04,0.05,0.06,0.07,0.08,0.09,0.1,0.11,0.12], "labels": false, "title": null, "tickSize": -5}}
    }},
   {"data": {"values": [{}]}, "mark": {"type": "rule", "color": "black", "strokeWidth": 1.5, "strokeDash": [10,4,2,4]},
    "encoding": {"y": {"datum": 0, "type": "quantitative", "axis": null}}},
   {"data": {"values": [{}]}, "mark": {"type": "rule", "color": "black", "strokeWidth": 1.5, "strokeDash": [10,4,2,4]},
    "encoding": {"x": {"datum": 0, "type": "quantitative", "axis": null}}}
  ]
 },
 {
  "width": 266, "height": 282,
  "resolve": {"axis": {"x": "independent", "y": "independent"}},
  "layer": [
   {"data": {"name": "p3"}, "mark": {"type": "circle", "size": 72, "opacity": 1},
    "encoding": {
     "x": {"field": "x", "type": "quantitative", "scale": {"domain": [-1.5, 0.8], "nice": false, "zero": false},
       "axis": {"orient": "bottom", "values": [-1.5,-1,-0.5,0,0.5], "format": ".1f", "title": "ΔlogQ [dex]", "tickSize": -10, "labelPadding": 25, "titlePadding": 3}},
     "y": {"field": "y", "type": "quantitative", "scale": {"domain": [-0.07, 0.12], "nice": false, "zero": false},
       "axis": {"orient": "left", "values": [-0.05,0,0.05,0.1], "format": ".2f", "title": "ΔYHe", "tickSize": -10, "labelPadding": 19, "titlePadding": 12}},
     "color": {"field": "c", "type": "nominal", "scale": {"domain": ["b","r"], "range": ["#0000ff","#ff0000"]}, "legend": null}
    }},
   {"data": {"values": [{}]}, "mark": {"type": "point", "opacity": 0},
    "encoding": {
     "x": {"datum": 0, "type": "quantitative", "axis": {"orient": "bottom", "values": [-1.5,-1.4,-1.3,-1.2,-1.1,-1,-0.9,-0.8,-0.7,-0.6,-0.5,-0.4,-0.3,-0.2,-0.1,0,0.1,0.2,0.3,0.4,0.5,0.6,0.7,0.8], "labels": false, "title": null, "tickSize": -5}},
     "y": {"datum": 0, "type": "quantitative", "axis": {"orient": "left", "values": [-0.07,-0.06,-0.05,-0.04,-0.03,-0.02,-0.01,0,0.01,0.02,0.03,0.04,0.05,0.06,0.07,0.08,0.09,0.1,0.11,0.12], "labels": false, "title": null, "tickSize": -5}}
    }},
   {"data": {"values": [{}]}, "mark": {"type": "point", "opacity": 0},
    "encoding": {
     "x": {"datum": 0, "type": "quantitative", "axis": {"orient": "top", "values": [-1.5,-1,-0.5,0,0.5], "labels": false, "title": null, "tickSize": -10}},
     "y": {"datum": 0, "type": "quantitative", "axis": {"orient": "right", "values": [-0.05,0,0.05,0.1], "labels": false, "title": null, "tickSize": -10}}
    }},
   {"data": {"values": [{}]}, "mark": {"type": "point", "opacity": 0},
    "encoding": {
     "x": {"datum": 0, "type": "quantitative", "axis": {"orient": "top", "values": [-1.5,-1.4,-1.3,-1.2,-1.1,-1,-0.9,-0.8,-0.7,-0.6,-0.5,-0.4,-0.3,-0.2,-0.1,0,0.1,0.2,0.3,0.4,0.5,0.6,0.7,0.8], "labels": false, "title": null, "tickSize": -5}},
     "y": {"datum": 0, "type": "quantitative", "axis": {"orient": "right", "values": [-0.07,-0.06,-0.05,-0.04,-0.03,-0.02,-0.01,0,0.01,0.02,0.03,0.04,0.05,0.06,0.07,0.08,0.09,0.1,0.11,0.12], "labels": false, "title": null, "tickSize": -5}}
    }},
   {"data": {"values": [{}]}, "mark": {"type": "rule", "color": "black", "strokeWidth": 1.5, "strokeDash": [10,4,2,4]},
    "encoding": {"y": {"datum": 0, "type": "quantitative", "axis": null}}},
   {"data": {"values": [{}]}, "mark": {"type": "rule", "color": "black", "strokeWidth": 1.5, "strokeDash": [10,4,2,4]},
    "encoding": {"x": {"datum": 0, "type": "quantitative", "axis": null}}}
  ]
 },
 {
  "width": 269, "height": 282,
  "resolve": {"axis": {"x": "independent", "y": "independent"}},
  "layer": [
   {"data": {"name": "p4"}, "mark": {"type": "circle", "size": 72, "opacity": 1},
    "encoding": {
     "x": {"field": "x", "type": "quantitative", "scale": {"domain": [0, 0.27], "nice": false, "zero": false},
       "axis": {"orient": "bottom", "values": [0,0.05,0.1,0.15,0.2,0.25], "format": ".2f", "title": "YHe (orig)", "tickSize": -10, "labelPadding": 25, "titlePadding": 3}},
     "y": {"field": "y", "type": "quantitative", "scale": {"domain": [0, 0.27], "nice": false, "zero": false},
       "axis": {"orient": "left", "values": [0,0.05,0.1,0.15,0.2,0.25], "format": ".2f", "title": "YHe (fix_micro)", "tickSize": -10, "labelPadding": 16, "titlePadding": 12}},
     "color": {"field": "c", "type": "nominal", "scale": {"domain": ["b","r"], "range": ["#0000ff","#ff0000"]}, "legend": null}
    }},
   {"data": {"values": [{}]}, "mark": {"type": "point", "opacity": 0},
    "encoding": {
     "x": {"datum": 0, "type": "quantitative", "axis": {"orient": "bottom", "values": [0,0.01,0.02,0.03,0.04,0.05,0.06,0.07,0.08,0.09,0.1,0.11,0.12,0.13,0.14,0.15,0.16,0.17,0.18,0.19,0.2,0.21,0.22,0.23,0.24,0.25,0.26,0.27], "labels": false, "title": null, "tickSize": -5}},
     "y": {"datum": 0, "type": "quantitative", "axis": {"orient": "left", "values": [0,0.01,0.02,0.03,0.04,0.05,0.06,0.07,0.08,0.09,0.1,0.11,0.12,0.13,0.14,0.15,0.16,0.17,0.18,0.19,0.2,0.21,0.22,0.23,0.24,0.25,0.26,0.27], "labels": false, "title": null, "tickSize": -5}}
    }},
   {"data": {"values": [{}]}, "mark": {"type": "point", "opacity": 0},
    "encoding": {
     "x": {"datum": 0, "type": "quantitative", "axis": {"orient": "top", "values": [0,0.05,0.1,0.15,0.2,0.25], "labels": false, "title": null, "tickSize": -10}},
     "y": {"datum": 0, "type": "quantitative", "axis": {"orient": "right", "values": [0,0.05,0.1,0.15,0.2,0.25], "labels": false, "title": null, "tickSize": -10}}
    }},
   {"data": {"values": [{}]}, "mark": {"type": "point", "opacity": 0},
    "encoding": {
     "x": {"datum": 0, "type": "quantitative", "axis": {"orient": "top", "values": [0,0.01,0.02,0.03,0.04,0.05,0.06,0.07,0.08,0.09,0.1,0.11,0.12,0.13,0.14,0.15,0.16,0.17,0.18,0.19,0.2,0.21,0.22,0.23,0.24,0.25,0.26,0.27], "labels": false, "title": null, "tickSize": -5}},
     "y": {"datum": 0, "type": "quantitative", "axis": {"orient": "right", "values": [0,0.01,0.02,0.03,0.04,0.05,0.06,0.07,0.08,0.09,0.1,0.11,0.12,0.13,0.14,0.15,0.16,0.17,0.18,0.19,0.2,0.21,0.22,0.23,0.24,0.25,0.26,0.27], "labels": false, "title": null, "tickSize": -5}}
    }},
   {"data": {"name": "lines4"}, "transform": [{"filter": "datum.k == 'eq'"}],
    "mark": {"type": "rule", "color": "black", "strokeWidth": 1.5, "strokeDash": [9,5]},
    "encoding": {"x": {"field": "x", "type": "quantitative", "axis": null}, "y": {"field": "y", "type": "quantitative", "axis": null}, "x2": {"field": "x2"}, "y2": {"field": "y2"}}},
   {"data": {"name": "lines4"}, "transform": [{"filter": "datum.k != 'eq'"}],
    "mark": {"type": "rule", "color": "black", "strokeWidth": 2, "strokeDash": [2,4]},
    "encoding": {"x": {"field": "x", "type": "quantitative", "axis": null}, "y": {"field": "y", "type": "quantitative", "axis": null}, "x2": {"field": "x2"}, "y2": {"field": "y2"}}}
  ]
 }
]
}
